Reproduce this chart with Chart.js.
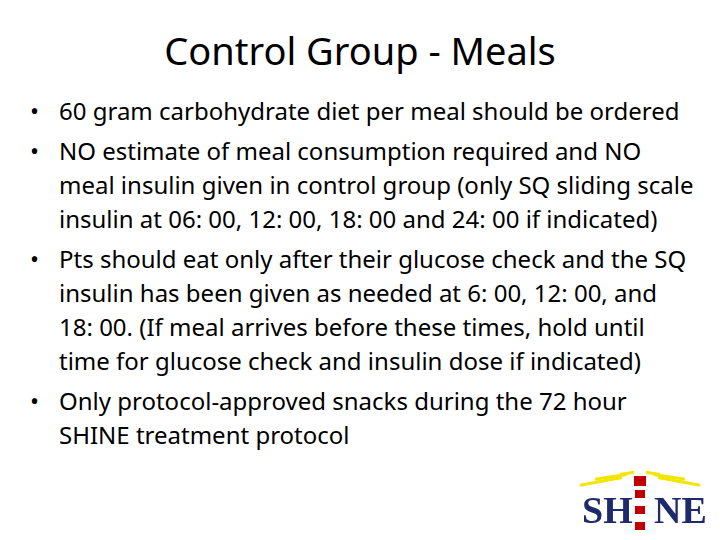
<!DOCTYPE html>
<html><head><meta charset="utf-8">
<script src="https://cdn.jsdelivr.net/npm/chart.js@4"></script>
<style>
body{margin:0;width:720px;height:540px;background:#fff;font-family:"Noto Sans",sans-serif;color:#000;position:relative;overflow:hidden}
h1{position:absolute;top:24px;left:0;width:720px;text-align:center;margin:0;font-weight:normal;font-size:38px;line-height:52px}
ul{position:absolute;top:94px;left:30px;margin:0;padding:0;list-style:none;width:690px}
li{position:relative;padding-left:29px;font-size:24px;line-height:34px;margin-bottom:6px;white-space:nowrap}
li:before{content:"•";position:absolute;left:0}
#logo{position:absolute;left:570px;top:462px;width:140px;height:72px}
</style></head><body>
<h1 id="title"></h1>
<ul id="bullets"></ul>
<canvas id="logo" width="140" height="72"></canvas>
<script>
const titleText = 'Control Group - Meals';
const bulletLines = [
  ['60 gram carbohydrate diet per meal should be ordered'],
  ['NO estimate of meal consumption required and NO', 'meal insulin given in control group (only SQ sliding scale', 'insulin at 06: 00, 12: 00, 18: 00 and 24: 00 if indicated)'],
  ['Pts should eat only after their glucose check and the SQ', 'insulin has been given as needed at 6: 00, 12: 00, and', '18: 00. (If meal arrives before these times, hold until', 'time for glucose check and insulin dose if indicated)'],
  ['Only protocol-approved snacks during the 72 hour', 'SHINE treatment protocol']
];
document.getElementById('title').textContent = titleText;
const ul = document.getElementById('bullets');
bulletLines.forEach(lines => {
  const li = document.createElement('li');
  li.innerHTML = lines.join('<br>');
  ul.appendChild(li);
});

// logo drawn on a Chart.js canvas via a plugin
const logoPlugin = {
  id: 'logo',
  afterDraw(chart) {
    const c = chart.ctx;
    c.save();
    c.strokeStyle = '#f2e600'; c.lineWidth = 3;
    [[-60,-8],[-45,-18],[-20,-26],[20,-26],[45,-18],[60,-8]].forEach(([dx,dy]) => {
      c.beginPath(); c.moveTo(70 + dx*0.3, 18 + dy*0.3); c.lineTo(70 + dx, 18 + dy*0.6 + 10); c.stroke();
    });
    c.fillStyle = '#c00000';
    c.fillRect(64, 14, 12, 10);
    c.font = 'bold 38px "Liberation Serif", serif';
    c.fillStyle = '#1f2a6b';
    c.textBaseline = 'bottom';
    c.fillText('SH', 12, 70);
    c.fillText('NE', 84, 70);
    for (let i = 0; i < 5; i++) {
      c.fillStyle = i % 2 ? '#fff' : '#c00000';
      c.fillRect(65, 28 + i * 8, 10, 8);
    }
    c.restore();
  }
};
new Chart(document.getElementById('logo'), {
  type: 'bar',
  data: { labels: [], datasets: [] },
  options: { responsive: false, animation: false, plugins: { legend: { display: false }, tooltip: { enabled: false } },
    scales: { x: { display: false }, y: { display: false } } },
  plugins: [logoPlugin]
});
</script>
</body></html>
